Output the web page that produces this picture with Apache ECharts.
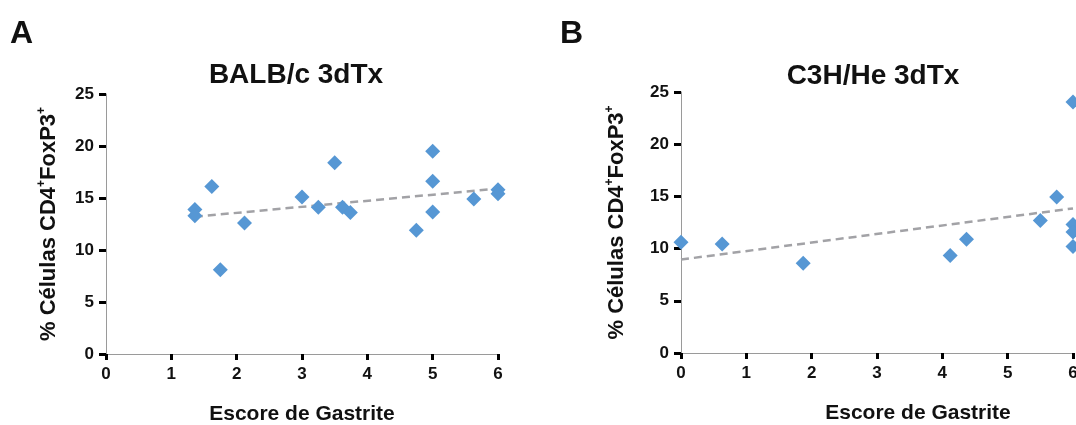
<!DOCTYPE html>
<html>
<head>
<meta charset="utf-8">
<script src="https://cdn.jsdelivr.net/npm/echarts@6/dist/echarts.min.js"></script>
<style>
  html, body { margin: 0; padding: 0; background: #ffffff; overflow: hidden; }
  #chart { width: 1076px; height: 425px; }
</style>
</head>
<body>
<div id="chart"></div>
<script>
// Gastritis score vs. % CD4+FoxP3+ cells, two mouse strains after 3dTx
const panelLetters = ['A', 'B'];
const panelTitles = ['BALB/c 3dTx', 'C3H/He 3dTx'];
const xAxisName = 'Escore de Gastrite';
const yAxisName = '% Células CD4{sup|+}FoxP3{sup|+}';

// BALB/c 3dTx: [score, % cells]
const balbPoints = [
  [1.36, 13.9], [1.36, 13.3], [1.62, 16.1], [1.75, 8.1], [2.12, 12.6],
  [3.0, 15.1], [3.25, 14.1], [3.5, 18.4], [3.62, 14.1], [3.74, 13.6],
  [4.75, 11.9], [5.0, 19.5], [5.0, 16.6], [5.0, 13.65], [5.63, 14.9],
  [6.0, 15.8], [6.0, 15.4]
];
// BALB/c regression line end points
const balbTrend = [[1.36, 13.2], [6.0, 15.9]];

// C3H/He 3dTx: [score, % cells]
const c3hPoints = [
  [0.0, 10.6], [0.63, 10.45], [1.87, 8.6], [4.12, 9.35], [4.37, 10.9],
  [5.5, 12.7], [5.75, 14.95], [6.0, 24.05], [6.0, 12.3], [6.0, 11.6],
  [6.0, 10.2]
];
// C3H/He regression line end points
const c3hTrend = [[0.0, 8.95], [6.0, 13.85]];

const FONT = '"Liberation Sans", Arial, Helvetica, sans-serif';
const INK = '#111111';
const MARK = '#5697d4';
const TREND = '#a2a2a6';

// namePad shifts the axis name sideways (the right-hand panel runs past the page edge)
function xAxisFor(gridIndex, namePad) {
  return {
    gridIndex, type: 'value', min: 0, max: 6, interval: 1,
    name: xAxisName, nameLocation: 'middle', nameGap: 50,
    nameTextStyle: { fontFamily: FONT, fontSize: 21, fontWeight: 'bold', color: INK, padding: [0, 0, 0, namePad] },
    axisLine: { show: true, onZero: false, lineStyle: { color: '#9a9a9a', width: 1 } },
    axisTick: { show: true, length: 6, lineStyle: { color: '#000', width: 3 } },
    axisLabel: { margin: 12, fontFamily: FONT, fontSize: 17, fontWeight: 'bold', color: INK },
    splitLine: { show: false }
  };
}
function yAxisFor(gridIndex, gap) {
  return {
    gridIndex, type: 'value', min: 0, max: 25, interval: 5,
    name: yAxisName, nameLocation: 'middle', nameGap: gap, nameRotate: 90,
    nameTextStyle: {
      fontFamily: FONT, fontSize: 22, fontWeight: 'bold', color: INK, lineHeight: 26,
      rich: { sup: { fontFamily: FONT, fontSize: 12, fontWeight: 'bold', color: INK, verticalAlign: 'top', lineHeight: 13 } }
    },
    axisLine: { show: true, onZero: false, lineStyle: { color: '#9a9a9a', width: 1 } },
    axisTick: { show: true, length: 7, lineStyle: { color: '#000', width: 3 } },
    axisLabel: { margin: 12, fontFamily: FONT, fontSize: 17, fontWeight: 'bold', color: INK },
    splitLine: { show: false }
  };
}
function scatterFor(idx, data) {
  return {
    type: 'scatter', xAxisIndex: idx, yAxisIndex: idx, data,
    symbol: 'diamond', symbolSize: 15, z: 3, clip: false,
    itemStyle: { color: MARK, opacity: 1 }
  };
}
function trendFor(idx, data) {
  return {
    type: 'line', xAxisIndex: idx, yAxisIndex: idx, data,
    symbol: 'none', silent: true, z: 2,
    lineStyle: { color: TREND, width: 2.5, type: [8, 5] }
  };
}

const chart = echarts.init(document.getElementById('chart'), null, { renderer: 'canvas' });
chart.setOption({
  animation: false,
  backgroundColor: '#ffffff',
  title: [
    { text: panelLetters[0], left: 5, top: 13, textStyle: { fontFamily: FONT, fontSize: 32, fontWeight: 'bold', color: INK } },
    { text: panelLetters[1], left: 555, top: 13, textStyle: { fontFamily: FONT, fontSize: 32, fontWeight: 'bold', color: INK } },
    { text: panelTitles[0], left: 291, top: 56, textAlign: 'center', textStyle: { fontFamily: FONT, fontSize: 28, fontWeight: 'bold', color: INK } },
    { text: panelTitles[1], left: 868, top: 57, textAlign: 'center', textStyle: { fontFamily: FONT, fontSize: 28, fontWeight: 'bold', color: INK } }
  ],
  grid: [
    { left: 106, top: 94, width: 392, height: 260, outerBoundsMode: 'none', containLabel: false },
    { left: 681, top: 92, width: 392, height: 261, outerBoundsMode: 'none', containLabel: false }
  ],
  xAxis: [xAxisFor(0, 0), xAxisFor(1, 82)],
  yAxis: [yAxisFor(0, 44), yAxisFor(1, 51)],
  series: [
    trendFor(0, balbTrend),
    scatterFor(0, balbPoints),
    trendFor(1, c3hTrend),
    scatterFor(1, c3hPoints)
  ]
});
</script>
</body>
</html>
